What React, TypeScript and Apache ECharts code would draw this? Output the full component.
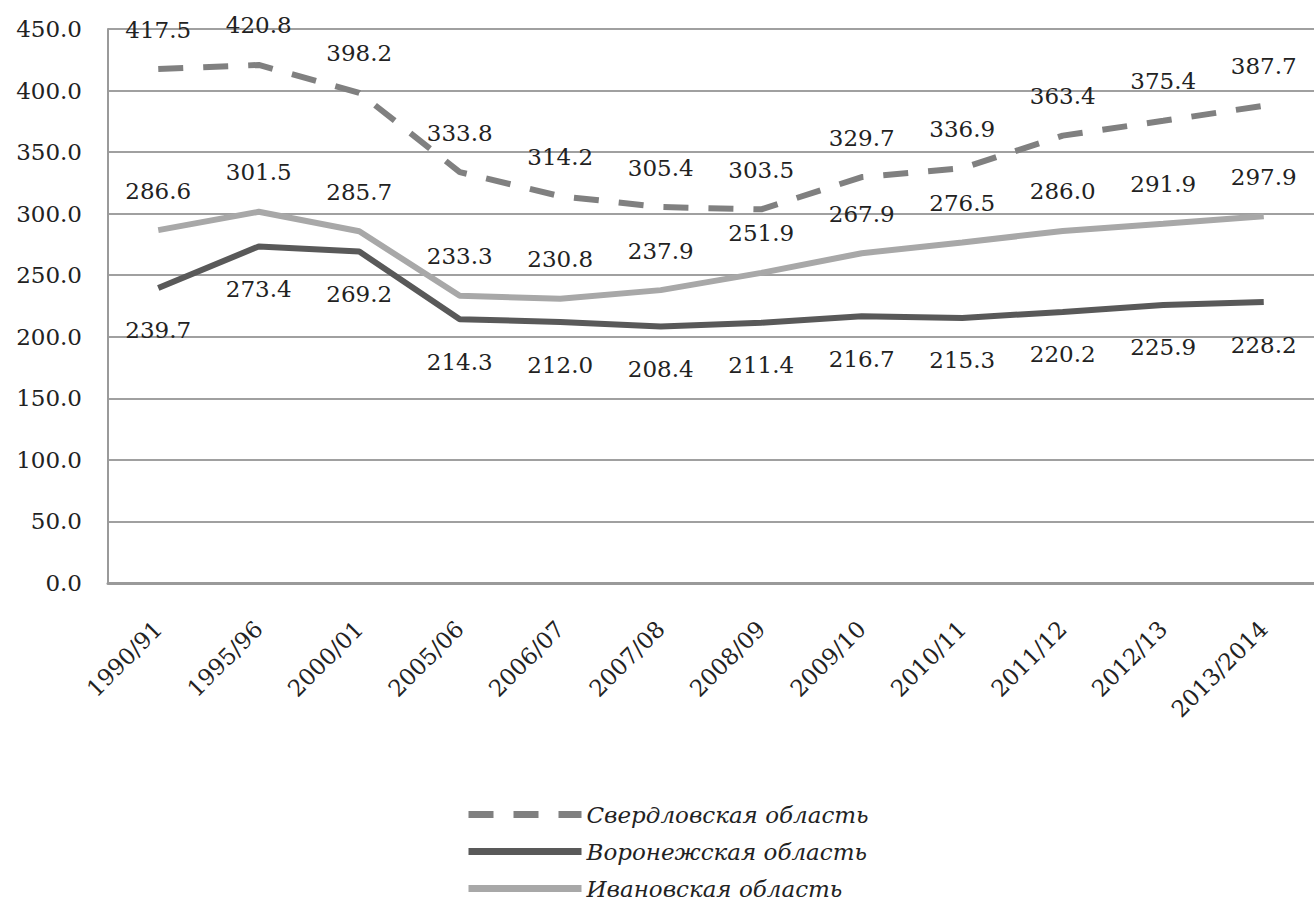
import React, { useEffect, useRef } from "react";
import * as echarts from "echarts";

const categories = [
  "1990/91", "1995/96", "2000/01", "2005/06", "2006/07", "2007/08",
  "2008/09", "2009/10", "2010/11", "2011/12", "2012/13", "2013/2014",
];
const sverdlovsk = [417.5, 420.8, 398.2, 333.8, 314.2, 305.4, 303.5, 329.7, 336.9, 363.4, 375.4, 387.7];
const voronezh = [239.7, 273.4, 269.2, 214.3, 212.0, 208.4, 211.4, 216.7, 215.3, 220.2, 225.9, 228.2];
const ivanovo = [286.6, 301.5, 285.7, 233.3, 230.8, 237.9, 251.9, 267.9, 276.5, 286.0, 291.9, 297.9];
const seriesNames = ["Свердловская область", "Воронежская область", "Ивановская область"];
const yTicks = { min: 0, max: 450, interval: 50 };

const FONT = "DejaVu Serif";
const TEXT = "#222222";

export default function App() {
  const ref = useRef<HTMLDivElement>(null);
  useEffect(() => {
    if (!ref.current) return;
    const chart = echarts.init(ref.current, undefined, { renderer: "svg" });
    const labelBase = {
      show: true,
      fontFamily: FONT,
      fontSize: 23,
      lineHeight: 23,
      color: TEXT,
      formatter: (p: any) => Number(p.value).toFixed(1),
    };
    chart.setOption({
      animation: false,
      backgroundColor: "#ffffff",
      grid: { left: 108, right: -11, top: 29, bottom: 318, containLabel: false },
      xAxis: {
        type: "category",
        data: categories,
        boundaryGap: true,
        axisLine: { show: true, lineStyle: { color: "#9a9a9a", width: 3 } },
        axisTick: { show: false },
        axisLabel: {
          rotate: 45,
          margin: 42,
          fontFamily: FONT,
          fontSize: 23,
          color: TEXT,
          interval: 0,
        },
        splitLine: { show: false },
      },
      yAxis: {
        type: "value",
        min: yTicks.min,
        max: yTicks.max,
        interval: yTicks.interval,
        axisLine: { show: true, lineStyle: { color: "#9a9a9a", width: 2 } },
        axisTick: { show: false },
        axisLabel: {
          margin: 26,
          fontFamily: FONT,
          fontSize: 23,
          color: TEXT,
          formatter: (v: number) => v.toFixed(1),
        },
        splitLine: { show: true, lineStyle: { color: "#a0a0a0", width: 2 } },
      },
      legend: {
        orient: "vertical",
        left: 465,
        top: 803,
        padding: 0,
        itemWidth: 113,
        itemHeight: 8,
        itemGap: 14,
        data: seriesNames,
        itemStyle: { opacity: 0 },
        lineStyle: { width: 7 },
        textStyle: {
          fontFamily: FONT,
          fontStyle: "italic",
          fontSize: 23,
          lineHeight: 22,
          color: TEXT,
        },
      },
      series: [
        {
          name: seriesNames[0],
          type: "line",
          data: sverdlovsk,
          symbol: "circle",
          symbolSize: 0,
          showSymbol: true,
          lineStyle: { color: "#808080", width: 6, type: [25, 20], cap: "butt" },
          itemStyle: { color: "#808080" },
          label: { ...labelBase, position: "top", distance: 28 },
          z: 3,
        },
        {
          name: seriesNames[1],
          type: "line",
          data: voronezh,
          symbol: "circle",
          symbolSize: 0,
          showSymbol: true,
          lineStyle: { color: "#595959", width: 6 },
          itemStyle: { color: "#595959" },
          label: { ...labelBase, position: "bottom", distance: 31 },
          z: 2,
        },
        {
          name: seriesNames[2],
          type: "line",
          data: ivanovo,
          symbol: "circle",
          symbolSize: 0,
          showSymbol: true,
          lineStyle: { color: "#a8a8a8", width: 6 },
          itemStyle: { color: "#a8a8a8" },
          label: { ...labelBase, position: "top", distance: 28 },
          z: 1,
        },
      ],
    });
    return () => chart.dispose();
  }, []);
  return (
    <div
      ref={ref}
      style={{ position: "fixed", left: 0, top: 0, width: 1314, height: 901, background: "#fff" }}
    />
  );
}
